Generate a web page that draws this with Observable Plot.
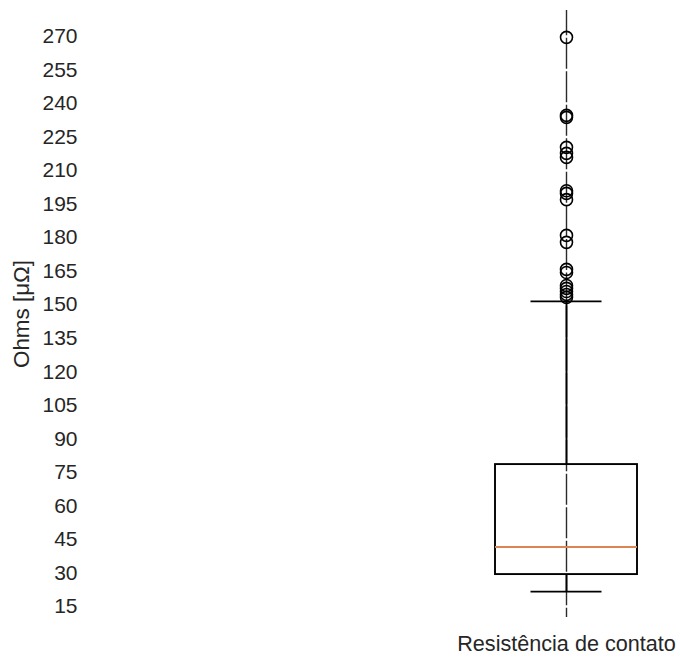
<!DOCTYPE html>
<html>
<head>
<meta charset="utf-8">
<script src="https://cdn.jsdelivr.net/npm/d3@7"></script>
<script src="https://cdn.jsdelivr.net/npm/@observablehq/plot@0.6"></script>
<style>
  html, body { margin: 0; padding: 0; background: #fff; }
  #chart svg { display: block; }
</style>
</head>
<body>
<div id="chart"></div>
<script>
// ---- data ----
const categories = ["Resistência de contato"];
const boxPosition = [1];
const q1 = [29.3];
const median = [41.6];
const q3 = [78.5];
const whiskerLow = [21.7];
const whiskerHigh = [151.5];
const outliers = [269.6, 234.7, 233.8, 220.4, 217.7, 215.9, 201.0, 199.8, 197.0,
                  181.0, 177.9, 165.8, 164.4, 158.6, 157.3, 155.9, 154.6, 153.3];
const yTicks = [15, 30, 45, 60, 75, 90, 105, 120, 135, 150, 165, 180, 195, 210, 225, 240, 255, 270];
const yLabel = "Ohms [μΩ]";

// ---- table built from the arrays ----
const boxes = boxPosition.map((p, i) => ({
  pos: p, q1: q1[i], med: median[i], q3: q3[i], lo: whiskerLow[i], hi: whiskerHigh[i]
}));
const pts = outliers.map(v => ({pos: boxPosition[0], v}));
const half = 0.25, capHalf = 0.125;

const textColor = "#262626";
const font = "'Liberation Sans', Arial, sans-serif";

const chart = Plot.plot({
  width: 680,
  height: 657,
  marginTop: 10,
  marginBottom: 40,
  marginLeft: 90,
  marginRight: 0,
  style: {fontFamily: font, fontSize: "21px", color: textColor, background: "#fff"},
  x: {type: "linear", domain: [0.5, 1.5], range: [424, 708]},
  y: {domain: [10.1, 281.6], range: [617, 10]},
  marks: [
    // vertical grid line at the category
    Plot.ruleX(boxPosition, {stroke: "#2a2a2a", strokeWidth: 1.4}),
    // white horizontal grid lines at ticks
    Plot.ruleY(yTicks, {stroke: "#fff", strokeWidth: 2.5}),
    // whiskers
    Plot.ruleX(boxes, {x: "pos", y1: "lo", y2: "q1", stroke: "#000", strokeWidth: 1.9}),
    Plot.ruleX(boxes, {x: "pos", y1: "q3", y2: "hi", stroke: "#000", strokeWidth: 1.9}),
    // caps
    Plot.ruleY(boxes, {y: "lo", x1: d => d.pos - capHalf, x2: d => d.pos + capHalf, stroke: "#000", strokeWidth: 1.8}),
    Plot.ruleY(boxes, {y: "hi", x1: d => d.pos - capHalf, x2: d => d.pos + capHalf, stroke: "#000", strokeWidth: 1.8}),
    // box
    Plot.rect(boxes, {x1: d => d.pos - half, x2: d => d.pos + half, y1: "q1", y2: "q3",
      fill: "none", stroke: "#000", strokeWidth: 1.9}),
    // median
    Plot.ruleY(boxes, {y: "med", x1: d => d.pos - half, x2: d => d.pos + half, stroke: "#DD8452", strokeWidth: 1.9}),
    // outliers
    Plot.dot(pts, {x: "pos", y: "v", r: 6, fill: "none", stroke: "#000", strokeWidth: 1.6}),
    // axes
    Plot.axisY({ticks: yTicks, tickSize: 0, tickPadding: 13, label: null, fill: textColor}),
    Plot.axisY({ticks: [], tickSize: 0, label: yLabel, fontSize: 22.4,
      labelAnchor: "center", labelArrow: "none", labelOffset: 77, fill: textColor}),
    Plot.axisX({ticks: boxPosition, tickSize: 0, tickPadding: 18, fontSize: 21.6,
      tickFormat: (d, i) => categories[i], label: null, fill: textColor})
  ]
});
document.getElementById("chart").appendChild(chart);
</script>
</body>
</html>
